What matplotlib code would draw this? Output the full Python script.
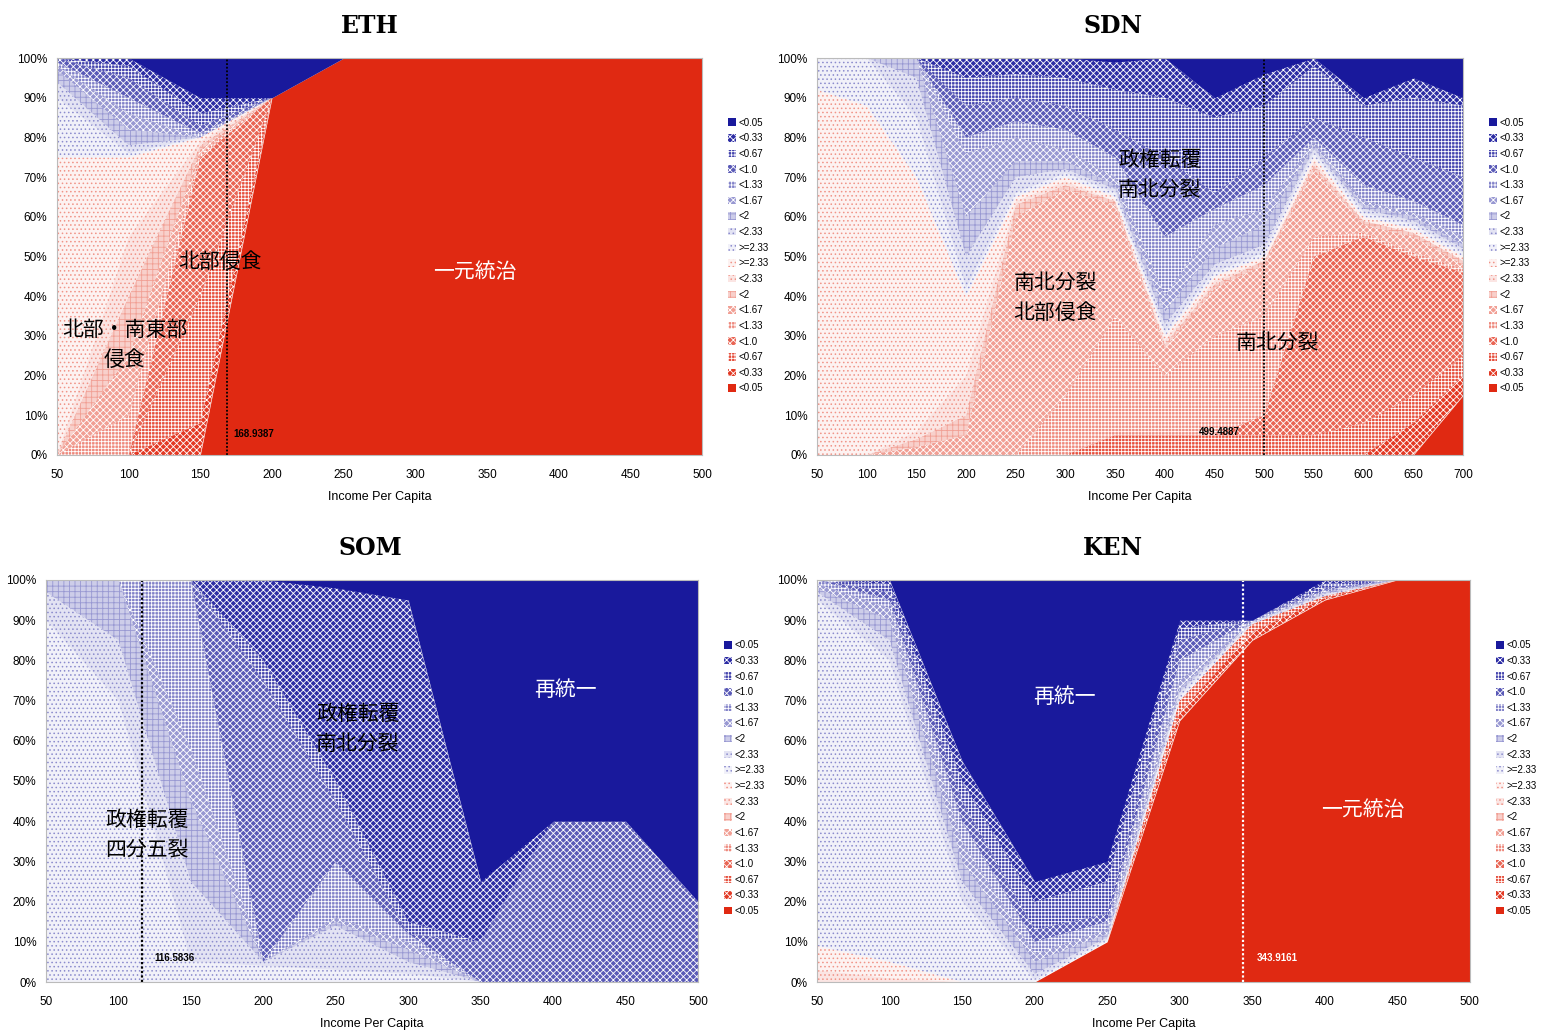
import numpy as np
import matplotlib
matplotlib.use("Agg")
import matplotlib.pyplot as plt
from matplotlib.patches import Patch

plt.rcParams['font.family'] = ['Liberation Sans', 'Noto Sans CJK JP', 'DejaVu Sans']
plt.rcParams['hatch.linewidth'] = 0.6

# share of each fragility class (cumulative top edge, %), stacked bottom -> top
# red: <0.05, <0.33, <0.67, <1.0, <1.33, <1.67, <2, <2.33, >=2.33
# blue: >=2.33, <2.33, <2, <1.67, <1.33, <1.0, <0.67, <0.33  (then <0.05 up to 100)
levels = ['<0.05', '<0.33', '<0.67', '<1.0', '<1.33', '<1.67', '<2', '<2.33', '>=2.33']

eth_x = [50, 100, 150, 200, 250, 300, 350, 400, 450, 500]
eth_red_tops = [
    [0, 0, 0, 90, 100, 100, 100, 100, 100, 100],
    [0, 0, 8, 90, 100, 100, 100, 100, 100, 100],
    [0, 0, 40, 90, 100, 100, 100, 100, 100, 100],
    [0, 0, 75, 90, 100, 100, 100, 100, 100, 100],
    [0, 10, 76, 90, 100, 100, 100, 100, 100, 100],
    [0, 25, 77, 90, 100, 100, 100, 100, 100, 100],
    [0, 40, 78, 90, 100, 100, 100, 100, 100, 100],
    [0, 55, 79, 90, 100, 100, 100, 100, 100, 100],
    [75, 75, 80, 90, 100, 100, 100, 100, 100, 100],
]
eth_blue_tops = [
    [90, 76, 80, 90, 100, 100, 100, 100, 100, 100],
    [94, 78, 80, 90, 100, 100, 100, 100, 100, 100],
    [97, 82, 80, 90, 100, 100, 100, 100, 100, 100],
    [98, 86, 80, 90, 100, 100, 100, 100, 100, 100],
    [99, 90, 81, 90, 100, 100, 100, 100, 100, 100],
    [100, 95, 83, 90, 100, 100, 100, 100, 100, 100],
    [100, 98, 86, 90, 100, 100, 100, 100, 100, 100],
    [100, 100, 90, 90, 100, 100, 100, 100, 100, 100],
]

sdn_x = [50, 100, 150, 200, 250, 300, 350, 400, 450, 500, 550, 600, 650, 700]
sdn_red_tops = [
    [0, 0, 0, 0, 0, 0, 0, 0, 0, 0, 0, 0, 0, 15],
    [0, 0, 0, 0, 0, 0, 0, 0, 0, 0, 0, 0, 8, 20],
    [0, 0, 0, 0, 0, 0, 5, 5, 5, 5, 5, 8, 15, 25],
    [0, 0, 0, 0, 0, 0, 5, 5, 5, 10, 50, 55, 50, 46],
    [0, 0, 0, 0, 0, 15, 35, 20, 30, 35, 55, 56, 51, 47],
    [0, 0, 2, 5, 60, 67, 63, 27, 42, 48, 72, 58, 55, 48],
    [0, 0, 4, 10, 63, 68, 64, 28, 43, 49, 73, 59, 56, 49],
    [0, 0, 6, 20, 64, 69, 64, 29, 44, 49, 74, 59, 56, 49],
    [92, 88, 70, 40, 65, 70, 65, 30, 45, 50, 75, 60, 57, 50],
]
sdn_blue_tops = [
    [100, 100, 85, 42, 66, 71, 66, 31, 46, 51, 76, 61, 58, 51],
    [100, 100, 95, 50, 70, 72, 67, 33, 48, 53, 77, 62, 59, 52],
    [100, 100, 100, 60, 74, 74, 68, 36, 52, 58, 78, 63, 60, 53],
    [100, 100, 100, 76, 80, 77, 70, 40, 58, 62, 79, 64, 61, 55],
    [100, 100, 100, 80, 84, 82, 75, 55, 62, 68, 80, 68, 64, 58],
    [100, 100, 100, 88, 90, 88, 82, 75, 66, 75, 85, 80, 75, 70],
    [100, 100, 100, 95, 96, 95, 92, 90, 85, 88, 98, 88, 90, 88],
    [100, 100, 100, 100, 100, 100, 99, 100, 90, 96, 100, 90, 95, 90],
]

som_x = [50, 100, 150, 200, 250, 300, 350, 400, 450, 500]
som_red_tops = [[0] * 10 for _ in range(9)]
som_blue_tops = [
    [90, 70, 5, 4, 3, 2, 0, 0, 0, 0],
    [97, 85, 25, 5, 14, 5, 0, 0, 0, 0],
    [100, 100, 45, 5, 15, 8, 0, 0, 0, 0],
    [100, 100, 58, 5, 16, 10, 0, 0, 0, 0],
    [100, 100, 100, 5, 30, 12, 0, 0, 0, 0],
    [100, 100, 100, 75, 45, 12, 10, 40, 40, 20],
    [100, 100, 100, 80, 50, 15, 10, 40, 40, 20],
    [100, 100, 100, 100, 98, 95, 25, 40, 40, 20],
]

ken_x = [50, 100, 150, 200, 250, 300, 350, 400, 450, 500]
ken_red_tops = [
    [0, 0, 0, 0, 10, 65, 85, 95, 100, 100],
    [0, 0, 0, 0, 10, 67, 87, 95.5, 100, 100],
    [0, 0, 0, 0, 10, 70, 89, 96, 100, 100],
    [0, 0, 0, 0, 10, 70, 89, 96, 100, 100],
    [0, 0, 0, 0, 10, 70, 89, 96, 100, 100],
    [0, 0, 0, 0, 10, 70, 89, 96, 100, 100],
    [0, 0, 0, 0, 10, 70, 89, 96, 100, 100],
    [3, 1, 0, 0, 10, 70, 89, 96, 100, 100],
    [9, 5, 0, 0, 10, 70, 89, 96, 100, 100],
]
ken_blue_tops = [
    [95, 80, 20, 0.5, 10.5, 71, 89, 96, 100, 100],
    [97, 85, 25, 2, 11, 72, 89.5, 96.5, 100, 100],
    [98, 90, 30, 5, 12, 73, 89.5, 97, 100, 100],
    [99, 93, 35, 7, 13, 75, 89.5, 97, 100, 100],
    [100, 95, 40, 10, 15, 80, 90, 97.5, 100, 100],
    [100, 97, 45, 13, 17, 85, 90, 98, 100, 100],
    [100, 99, 50, 20, 25, 88, 90, 99, 100, 100],
    [100, 100, 55, 25, 30, 90, 90, 100, 100, 100],
]

eth_cut, sdn_cut, som_cut, ken_cut = 168.9387, 499.4887, 116.5836, 343.9161

BLUE = (0.10, 0.10, 0.61)
RED = (0.88, 0.16, 0.07)
# face tint, hatch pattern, hatch tint (None = white hatch) per class, darkest first
frac = [1.0, 0.92, 0.82, 0.72, 0.55, 0.45, 0.22, 0.12, 0.06]
hatches = [None, 'xxxxx', '+++++', 'xxxxx', '+++++', 'xxxxx', '+++', '....', '....']
hatch_tint = [None, None, None, None, None, None, 0.45, 0.5, 0.5]


def tint(c, f):
    return tuple(1 - f * (1 - v) for v in c)


def layer_style(base, k):
    fc = tint(base, frac[k])
    if k == 0:
        hc = fc
    elif hatch_tint[k] is None:
        hc = (1, 1, 1)
    else:
        hc = tint(base, hatch_tint[k])
    return dict(facecolor=fc, edgecolor=hc, hatch=hatches[k], linewidth=0)


def draw_panel(ax, title, title_x, x, red_tops, blue_tops, xmax):
    x = np.array(x, dtype=float)
    bounds = [np.zeros(len(x))] + [np.array(t, float) for t in red_tops] \
        + [np.array(t, float) for t in blue_tops] + [np.full(len(x), 100.0)]
    styles = [(RED, k) for k in range(9)] + [(BLUE, k) for k in reversed(range(9))]
    for i, (base, k) in enumerate(styles):
        ax.fill_between(x, bounds[i], bounds[i + 1], **layer_style(base, k))
    ax.set_xlim(50, xmax)
    ax.set_ylim(0, 100)
    ax.set_xticks(np.arange(50, xmax + 1, 50))
    ax.set_yticks(np.arange(0, 101, 10))
    ax.set_yticklabels([f"{v}%" for v in range(0, 101, 10)])
    ax.tick_params(length=0, labelsize=8.5)
    ax.tick_params(axis='x', pad=10)
    ax.tick_params(axis='y', pad=7)
    for s in ax.spines.values():
        s.set_color('#bbbbbb')
        s.set_linewidth(0.8)
    ax.set_xlabel("Income Per Capita", fontsize=9, labelpad=7)
    ax.set_title(title, fontsize=17, fontweight='bold', family='DejaVu Serif',
                 pad=18, x=title_x)
    handles = [Patch(**layer_style(BLUE, k)) for k in range(9)] + \
        [Patch(**layer_style(RED, k)) for k in reversed(range(9))]
    labels = levels + levels[::-1]
    ax.legend(handles, labels, loc='upper left', bbox_to_anchor=(1.04, 0.85),
              frameon=False, fontsize=7, handlelength=0.8, handleheight=0.8,
              handletextpad=0.3, labelspacing=0.58, borderpad=0, borderaxespad=0)


def label(ax, x, y, s, color='black'):
    ax.text(x, y, s, ha='center', va='center', fontsize=15, color=color,
            family=['Noto Sans CJK JP', 'DejaVu Sans'], linespacing=1.45)


fig = plt.figure(figsize=(15.47, 10.31), dpi=100)
ax_eth = fig.add_axes([0.0368, 0.5587, 0.417, 0.385])
ax_sdn = fig.add_axes([0.5281, 0.5587, 0.4176, 0.385])
ax_som = fig.add_axes([0.0297, 0.0475, 0.4215, 0.39])
ax_ken = fig.add_axes([0.5281, 0.0475, 0.422, 0.39])

draw_panel(ax_eth, "ETH", 0.485, eth_x, eth_red_tops, eth_blue_tops, 500)
draw_panel(ax_sdn, "SDN", 0.458, sdn_x, sdn_red_tops, sdn_blue_tops, 700)
draw_panel(ax_som, "SOM", 0.497, som_x, som_red_tops, som_blue_tops, 500)
draw_panel(ax_ken, "KEN", 0.453, ken_x, ken_red_tops, ken_blue_tops, 500)

# threshold lines
ax_eth.axvline(eth_cut, color='black', ls=(0, (1, 1)), lw=1.3)
ax_eth.text(eth_cut + 4, 5.3, f"{eth_cut}", fontsize=7, fontweight='bold', va='center')
ax_sdn.axvline(sdn_cut, color='black', ls=(0, (1, 1)), lw=1.3)
ax_sdn.text(sdn_cut - 24, 5.8, f"{sdn_cut}", fontsize=7, fontweight='bold', va='center', ha='right')
ax_som.axvline(som_cut, color='black', ls=(0, (1, 1)), lw=1.6)
ax_som.text(som_cut + 8, 6, f"{som_cut}", fontsize=7, fontweight='bold', va='center')
ax_ken.axvline(ken_cut, color='white', ls=(0, (1, 1)), lw=1.6)
ax_ken.text(ken_cut + 9, 6, f"{ken_cut}", fontsize=7, fontweight='bold', va='center', color='white')

label(ax_eth, 163.7, 48.6, "北部侵食")
label(ax_eth, 97.4, 27.7, "北部・南東部\n侵食")
label(ax_eth, 341.6, 46.1, "一元統治", 'white')
label(ax_sdn, 395.1, 70.5, "政権転覆\n南北分裂")
label(ax_sdn, 289.5, 39.5, "南北分裂\n北部侵食")
label(ax_sdn, 513.8, 28.2, "南北分裂")
label(ax_som, 119.7, 36.6, "政権転覆\n四分五裂")
label(ax_som, 265.3, 62.9, "政権転覆\n南北分裂")
label(ax_som, 408.2, 72.6, "再統一", 'white')
label(ax_ken, 220.9, 70.9, "再統一", 'white')
label(ax_ken, 426.2, 42.8, "一元統治", 'white')

fig.savefig("out.png", dpi=100)
